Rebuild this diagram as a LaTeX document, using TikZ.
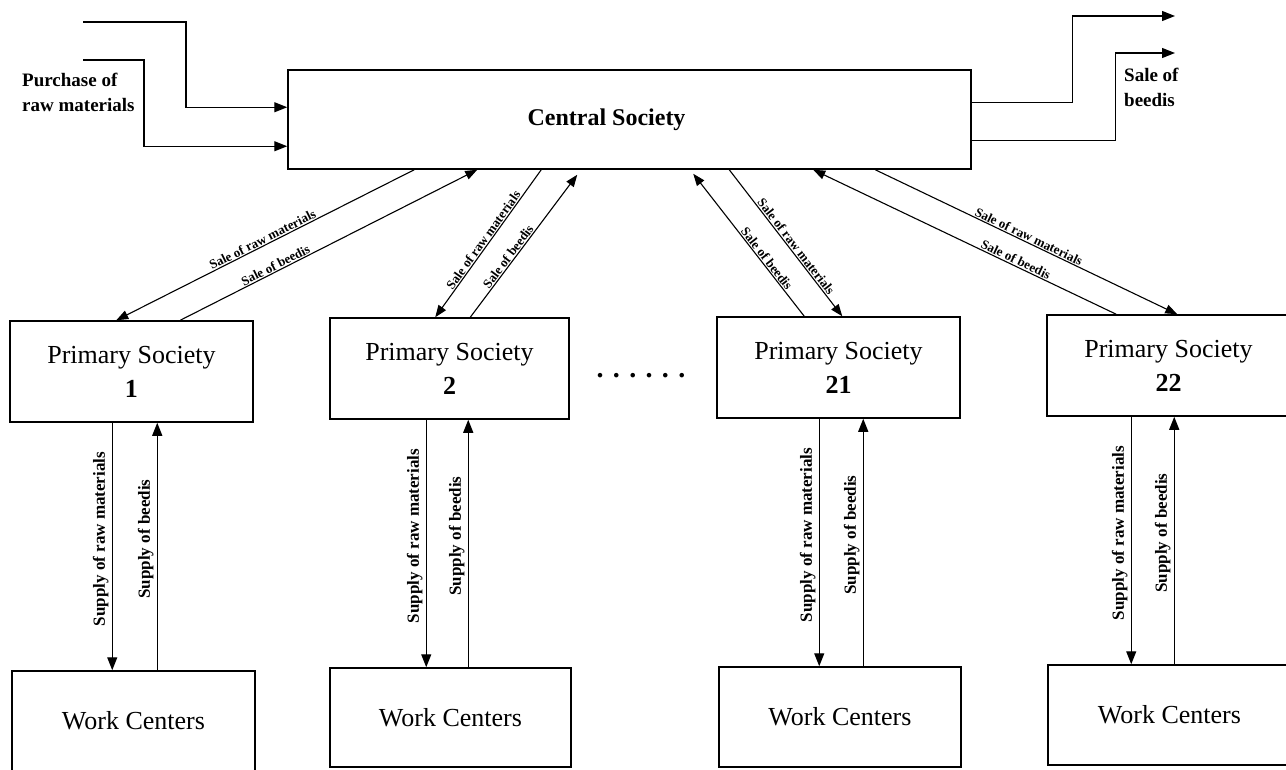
\documentclass[tikz,border=0pt]{standalone}
\usepackage{fontspec}
\setmainfont{Liberation Serif}
\usetikzlibrary{arrows.meta}
\begin{document}
\begin{tikzpicture}[x=1pt,y=-1pt,
 box/.style={draw,line width=1.5pt,inner sep=0pt},
 arr/.style={line width=1.3pt,-{Triangle[length=13pt,width=10pt]}},
 darr/.style={line width=1.1pt,-{Triangle[length=12pt,width=9pt]}},
 dlab/.style={font=\fontsize{13}{13}\selectfont\bfseries,sloped,above,inner sep=1pt},
 vlab/.style={font=\fontsize{17}{17}\selectfont\bfseries,rotate=90,anchor=south,inner sep=3pt},
 big/.style={font=\fontsize{26}{34}\selectfont,align=center},
 side/.style={font=\fontsize{19}{25}\selectfont\bfseries,align=left,anchor=west,inner sep=0pt},
]
\useasboundingbox (0,0) rectangle (1286,769);
% central
\node[box,minimum width=683pt,minimum height=99pt,font=\fontsize{24}{24}\selectfont\bfseries] (cs) at (629.5,119.5) {Central Society\hspace*{46pt}};
% primary societies
\node[box,big,minimum width=243pt,minimum height=101pt] (ps1) at (131.5,371.5) {Primary Society\\\textbf{1}};
\node[box,big,minimum width=239pt,minimum height=101pt] (ps2) at (449.5,368.5) {Primary Society\\\textbf{2}};
\node[box,big,minimum width=243pt,minimum height=101pt] (ps21) at (838.5,367.5) {Primary Society\\\textbf{21}};
\node[box,big,minimum width=243pt,minimum height=101pt] (ps22) at (1168.5,365.5) {Primary Society\\\textbf{22}};
% work centers
\node[box,big,minimum width=243pt,minimum height=100pt] (wc1) at (133.5,721) {Work Centers};
\node[box,big,minimum width=241pt,minimum height=99pt] (wc2) at (450.5,717.5) {Work Centers};
\node[box,big,minimum width=242pt,minimum height=100pt] (wc21) at (840,717) {Work Centers};
\node[box,big,minimum width=243pt,minimum height=100pt] (wc22) at (1169.5,715) {Work Centers};
% dots
\node[font=\fontsize{28}{28}\selectfont\bfseries] (dots) at (641,376) {. . . . . .};
% inputs
\coordinate (in1) at (83,22);
\coordinate (in2) at (83,60);
\draw[arr] (in1) -- ++(103,0) |- ([yshift=-38pt]cs.north west);
\draw[arr] (in2) -- ++(61,0) |- ([yshift=-77pt]cs.north west);
\node[side] (purch) at (22,92) {Purchase of\\raw materials};
% outputs
\coordinate (out1) at (1175,16);
\coordinate (out2) at (1175,53);
\draw[arr] ([yshift=-33pt]cs.north east) -- ++(101,0) |- (out1);
\draw[arr] ([yshift=-71pt]cs.north east) -- ++(144,0) |- (out2);
\node[side] (sale) at (1124,87) {Sale of\\beedis};
% diagonals
\draw[darr] ([xshift=127pt]cs.south west) -- node[dlab,pos=0.5]{Sale of raw materials} ([xshift=107pt]ps1.north west);
\draw[darr] ([xshift=171pt]ps1.north west) -- node[dlab,pos=0.33]{Sale of beedis} ([xshift=190pt]cs.south west);
\draw[darr] ([xshift=254pt]cs.south west) -- node[dlab,pos=0.5]{Sale of raw materials} ([xshift=106pt]ps2.north west);
\draw[darr] ([xshift=141pt]ps2.north west) -- node[dlab,pos=0.4]{Sale of beedis} ([xshift=290pt,yshift=-5pt]cs.south west);
\draw[darr] ([xshift=88pt]ps21.north west) -- node[dlab,pos=0.38]{Sale of beedis} ([xshift=406pt,yshift=-4pt]cs.south west);
\draw[darr] ([xshift=442pt]cs.south west) -- node[dlab,pos=0.55]{Sale of raw materials} ([xshift=126pt]ps21.north west);
\draw[darr] ([xshift=70pt]ps22.north west) -- node[dlab,pos=0.34]{Sale of beedis} ([xshift=526pt]cs.south west);
\draw[darr] ([xshift=588pt]cs.south west) -- node[dlab,pos=0.5]{Sale of raw materials} ([xshift=131pt]ps22.north west);
% verticals
\coordinate (d1) at ([xshift=103pt]ps1.south west);
\coordinate (u1) at ([xshift=148pt]ps1.south west);
\coordinate (d2) at ([xshift=97pt]ps2.south west);
\coordinate (u2) at ([xshift=139pt]ps2.south west);
\coordinate (d21) at ([xshift=103pt]ps21.south west);
\coordinate (u21) at ([xshift=147pt]ps21.south west);
\coordinate (d22) at ([xshift=85pt]ps22.south west);
\coordinate (u22) at ([xshift=128pt]ps22.south west);
\draw[arr] (d1) -- node[vlab,pos=0.47]{Supply of raw materials} (d1 |- wc1.north);
\draw[arr] (u1 |- wc1.north) -- node[vlab,pos=0.53]{Supply of beedis} (u1);
\draw[arr] (d2) -- node[vlab,pos=0.47]{Supply of raw materials} (d2 |- wc2.north);
\draw[arr] (u2 |- wc2.north) -- node[vlab,pos=0.53]{Supply of beedis} (u2);
\draw[arr] (d21) -- node[vlab,pos=0.47]{Supply of raw materials} (d21 |- wc21.north);
\draw[arr] (u21 |- wc21.north) -- node[vlab,pos=0.53]{Supply of beedis} (u21);
\draw[arr] (d22) -- node[vlab,pos=0.47]{Supply of raw materials} (d22 |- wc22.north);
\draw[arr] (u22 |- wc22.north) -- node[vlab,pos=0.53]{Supply of beedis} (u22);
\end{tikzpicture}
\end{document}
